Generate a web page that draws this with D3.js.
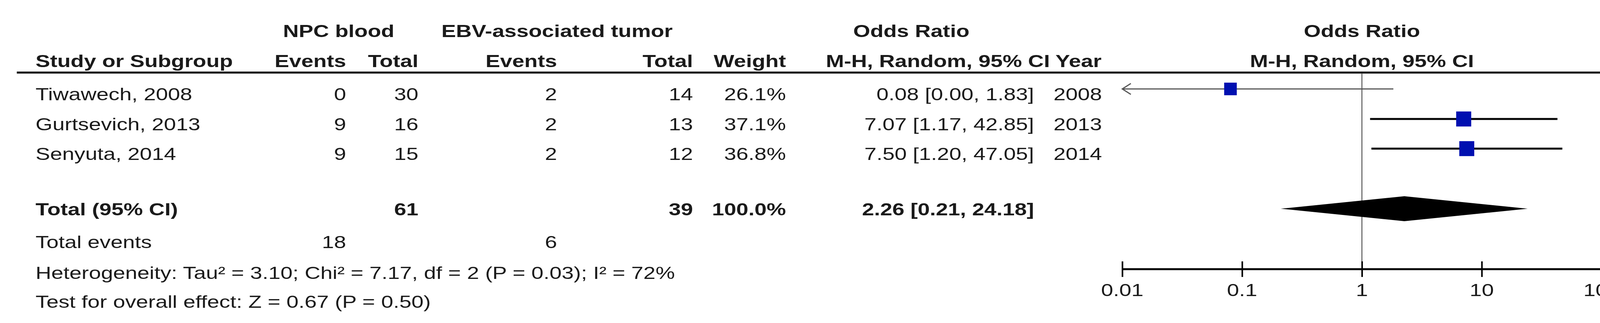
<!DOCTYPE html>
<html><head><meta charset="utf-8">
<script src="https://cdn.jsdelivr.net/npm/d3@7"></script>
<style>html,body{margin:0;background:#fff;overflow:hidden}svg{display:block}text{font-family:"Liberation Sans",Arial,sans-serif;fill:#1a1a1a}</style>
</head><body><svg id="c" width="4164" height="828"></svg>
<script>
// ----- data -----
const studies  = ["Tiwawech, 2008", "Gurtsevich, 2013", "Senyuta, 2014"];
const npcEvents = [0, 9, 9];
const npcTotal  = [30, 16, 15];
const ebvEvents = [2, 2, 2];
const ebvTotal  = [14, 13, 12];
const weights   = [26.1, 37.1, 36.8];
const orMid     = [0.08, 7.07, 7.50];
const orLow     = [0.00, 1.17, 1.20];
const orHigh    = [1.83, 42.85, 47.05];
const years     = [2008, 2013, 2014];
const pooled    = {or: 2.26, lo: 0.21, hi: 24.18, npcTotal: 61, ebvTotal: 39, npcEvents: 18, ebvEvents: 6};
const axisTicks = [0.01, 0.1, 1, 10, 100];
const footLines = ["Heterogeneity: Tau\u00b2 = 3.10; Chi\u00b2 = 7.17, df = 2 (P = 0.03); I\u00b2 = 72%",
                   "Test for overall effect: Z = 0.67 (P = 0.50)"];

const svg = d3.select('#c');
const fs = 45;
const sx = 1.24;                 // reference type is drawn wide
const rowY = [257, 334, 410];   // text baselines per study row

const x = d3.scaleLog().domain([0.01, 100]).range([2873, 4100]);
const wScale = d3.scaleSqrt().domain([0, 40]).range([0, 40]);

function txt(xp, y, s, anchor, bold) {
    svg.append('text').attr('transform', `translate(${xp},${y}) scale(${sx},1)`).text(s)
        .style('font-size', fs + 'px')
        .style('text-anchor', anchor || 'start')
        .style('font-weight', bold ? 'bold' : 'normal');
}

// --- headers ---
txt(867, 95, 'NPC blood', 'middle', true);
txt(1426, 95, 'EBV-associated tumor', 'middle', true);
txt(2333, 95, 'Odds Ratio', 'middle', true);
txt(x(1), 95, 'Odds Ratio', 'middle', true);
txt(91, 172, 'Study or Subgroup', 'start', true);
txt(886, 172, 'Events', 'end', true);
txt(1071, 172, 'Total', 'end', true);
txt(1426, 172, 'Events', 'end', true);
txt(1774, 172, 'Total', 'end', true);
txt(2012, 172, 'Weight', 'end', true);
txt(2820, 172, 'M-H, Random, 95% CI Year', 'end', true);
txt(x(1), 172, 'M-H, Random, 95% CI', 'middle', true);

svg.append('line').attr('x1', 43).attr('x2', 4153).attr('y1', 186).attr('y2', 186)
    .attr('stroke', '#000').attr('stroke-width', 5);

// --- study rows ---
studies.forEach((s, i) => {
    const y = rowY[i];
    txt(91, y, s);
    txt(886, y, npcEvents[i], 'end');
    txt(1071, y, npcTotal[i], 'end');
    txt(1426, y, ebvEvents[i], 'end');
    txt(1774, y, ebvTotal[i], 'end');
    txt(2012, y, weights[i].toFixed(1) + '%', 'end');
    txt(2647, y, `${orMid[i].toFixed(2)} [${orLow[i].toFixed(2)}, ${orHigh[i].toFixed(2)}]`, 'end');
    txt(2697, y, years[i]);
});

// --- pooled rows ---
txt(91, 552, 'Total (95% CI)', 'start', true);
txt(1071, 552, pooled.npcTotal, 'end', true);
txt(1774, 552, pooled.ebvTotal, 'end', true);
txt(2012, 552, '100.0%', 'end', true);
txt(2647, 552, `${pooled.or.toFixed(2)} [${pooled.lo.toFixed(2)}, ${pooled.hi.toFixed(2)}]`, 'end', true);
txt(91, 636, 'Total events');
txt(886, 636, pooled.npcEvents, 'end');
txt(1426, 636, pooled.ebvEvents, 'end');
footLines.forEach((l, i) => txt(91, 715 + i * 74, l));

// --- forest plot ---
const axisY = 690;
svg.append('line').attr('x1', x(1)).attr('x2', x(1)).attr('y1', 186).attr('y2', axisY)
    .attr('stroke', '#333').attr('stroke-width', 2);

studies.forEach((s, i) => {
    const cy = rowY[i] - 29;
    const clipped = orLow[i] < x.domain()[0];
    const x1 = clipped ? x.range()[0] : x(orLow[i]);
    const col = clipped ? '#555' : '#000';
    svg.append('line').attr('x1', x1).attr('x2', x(orHigh[i])).attr('y1', cy).attr('y2', cy)
        .attr('stroke', col).attr('stroke-width', clipped ? 3 : 5);
    if (clipped) {
        svg.append('path')
            .attr('d', `M${x1 + 22},${cy - 14} L${x1},${cy} L${x1 + 22},${cy + 14}`)
            .attr('fill', 'none').attr('stroke', col).attr('stroke-width', 3);
    }
    const sz = wScale(weights[i]);
    svg.append('rect').attr('x', x(orMid[i]) - sz / 2).attr('y', cy - sz / 2)
        .attr('width', sz).attr('height', sz).attr('fill', '#0010b0');
});

const dy = 535;
svg.append('path')
    .attr('d', `M${x(pooled.lo)},${dy} L${x(pooled.or)},${dy - 32} L${x(pooled.hi)},${dy} L${x(pooled.or)},${dy + 32}Z`)
    .attr('fill', '#000');

const axis = d3.axisTop(x).tickValues(axisTicks).tickSize(20).tickFormat(d => String(d));
const ag = svg.append('g').attr('transform', `translate(0,${axisY})`).call(axis);
ag.select('.domain').attr('stroke', '#000').attr('stroke-width', 5).attr('d', `M${x.range()[0]},0H${x.range()[1]}`);
ag.selectAll('.tick line').attr('stroke', '#000').attr('stroke-width', 4).attr('y2', 20).attr('y1', -20);
ag.selectAll('.tick text').remove();
axisTicks.forEach(t => txt(x(t), 759, String(t), 'middle'));
</script></body></html>
